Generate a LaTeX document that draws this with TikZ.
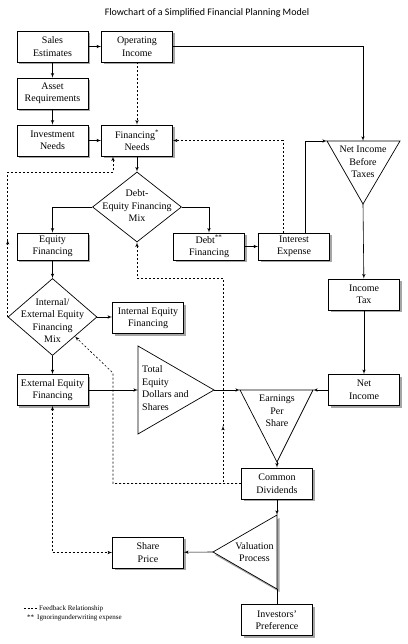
\documentclass[tikz,border=0pt]{standalone}
\usepackage{fontspec}
\setmainfont{Liberation Serif}
\newfontfamily\titlefont{Carlito}
\usepackage{tikz}
\usetikzlibrary{arrows,shapes.geometric,shadows,decorations.markings}

\begin{document}
\begin{tikzpicture}[x=1pt,y=-1pt]
\tikzset{box/.style = {shape=rectangle,draw,line width=0.7pt,fill=white,minimum width=71pt,minimum height=31pt,inner ysep=2pt,align=center,font=\fontsize{10}{12.5}\selectfont,drop shadow={shadow xshift=2pt,shadow yshift=-2pt,fill=black!35,opacity=1}}}
\tikzset{thin box/.style = {box,minimum height=27pt}}
\tikzset{decision/.style = {shape=diamond,draw,line width=0.7pt,inner sep=0pt}}
\tikzset{outline/.style = {draw,line width=0.7pt,line join=miter}}
\tikzset{txt/.style = {align=center,font=\fontsize{10}{12.5}\selectfont,inner sep=0pt}}
\tikzset{edge/.style = {->,> = latex',line width=0.6pt}}
\tikzset{feedback/.style = {edge,dash pattern=on 2pt off 2pt}}
\tikzset{midarrow/.style = {postaction={decorate},decoration={markings,mark=at position #1 with {\arrow{latex'}}}}}
\useasboundingbox (0,0) rectangle (407,644);
% title
\node[font=\titlefont\fontsize{10}{12}\selectfont] (title) at (207,13) {Flowchart of a Simplified Financial Planning Model};
% boxes
\node[box] (sales) at (52.5,46.5) {Sales\\Estimates};
\node[box] (opinc) at (137,46.5) {Operating\\Income};
\node[box] (asset) at (52.5,93.5) {Asset\\Requirements};
\node[box] (invest) at (52.5,140.5) {Investment\\Needs};
\node[box] (finneed) at (137,140.5) {Financing\textsuperscript{*}\\Needs};
\node[thin box] (eqfin) at (52.5,246.5) {Equity\\Financing};
\node[thin box] (debtfin) at (209,246.5) {Debt\textsuperscript{**}\\Financing};
\node[thin box] (intexp) at (294,246.5) {Interest\\Expense};
\node[box] (inctax) at (364,294.5) {Income\\Tax};
\node[box] (intfin) at (148,318) {Internal Equity\\Financing};
\node[box] (extfin) at (52.5,390) {External Equity\\Financing};
\node[box] (netinc) at (364,390) {Net\\Income};
\node[box] (comdiv) at (277,483.5) {Common\\Dividends};
\node[box] (price) at (148,552.5) {Share\\Price};
\node[box] (pref) at (277,620) {Investors'\\Preference};
% decisions
\node[decision,minimum width=89pt,minimum height=70pt] (dem) at (137,207) {};
\node[txt] (demtext) at (137,206) {Debt-\\Equity Financing\\Mix};
\node[decision,minimum width=89pt,minimum height=77pt] (iemix) at (52.5,317) {};
\node[txt] (iemixtext) at (52.5,320.5) {Internal/\\External Equity\\Financing\\Mix};
% triangles
\coordinate (nibt-l) at (327,141);
\coordinate (nibt-r) at (400,141);
\coordinate (nibt-b) at (363,204);
\coordinate (nibt-t) at (363,141);
\draw[outline] (nibt-l) -- (nibt-r) -- (nibt-b) -- cycle;
\node[txt] (nibt) at (363,162) {Net Income\\Before\\Taxes};
\coordinate (teds-t) at (138,346);
\coordinate (teds-b) at (138,434);
\coordinate (teds-r) at (214,390);
\coordinate (teds-l) at (138,390);
\draw[outline] (teds-t) -- (teds-r) -- (teds-b) -- cycle;
\node[txt,align=left,anchor=west] (teds) at (142,388) {Total\\Equity\\Dollars and\\Shares};
\coordinate (eps-l) at (240,390);
\coordinate (eps-r) at (313,390);
\coordinate (eps-b) at (277,462);
\draw[outline] (eps-l) -- (eps-r) -- (eps-b) -- cycle;
\node[txt] (eps) at (277,411) {Earnings\\Per\\Share};
\coordinate (val-t) at (277,515);
\coordinate (val-b) at (277,589);
\coordinate (val-l) at (213,552);
\fill[black!35] (279.5,518) -- (279.5,592) -- (215,555) -- cycle;
\draw[outline,fill=white] (val-t) -- (val-b) -- (val-l) -- cycle;
\node[txt] (val) at (254.5,552) {Valuation\\Process};
% edges
\draw[edge] (sales) -- (opinc);
\draw[edge] (sales) -- (asset);
\draw[edge] (asset) -- (invest);
\draw[edge] (invest) -- (finneed);
\draw[feedback] (opinc) -- (finneed);
\draw[edge] (opinc) -| (nibt-t);
\draw[edge] (finneed.south) -- (dem.north);
\draw[edge] (dem.west) -| (eqfin);
\draw[edge] (dem.east) -| (debtfin);
\draw[edge] (debtfin) -- (intexp);
\draw[edge] ([xshift=11pt]intexp.north) |- (nibt-l);
\draw[feedback] ([xshift=-11pt]intexp.north) |- (finneed.east);
\draw[edge] (nibt-b) -- (inctax);
\draw[edge] (inctax) -- (netinc);
\draw[edge] (netinc) -- (eps-r);
\draw[edge] (eqfin.south) -- (iemix.north);
\draw[edge] (iemix.east) -- (iemix.east -| intfin.west);
\draw[edge] (iemix.south) -- (extfin.north);
\draw[edge] (extfin) -- (teds-l);
\draw[edge] (teds-r) -- (eps-l);
\draw[edge] (eps-b) -- (comdiv);
\draw[edge] (comdiv) -- (val-t);
\draw[line width=0.6pt] (pref) -- (val-b);
\draw[edge] (val-l) -- (price);
\draw[feedback,<->] (extfin) |- (price);
\draw[feedback,midarrow=0.29] (iemix.west) |- (113,172) -- ([xshift=-24pt]finneed.south);
\draw[feedback] (comdiv.west) -| (113,373) -- (iemix.south east);
\draw[feedback,midarrow=0.22] (comdiv.west) -| (223,278) -| (dem.south);
% legend
\draw[line width=0.4pt,dash pattern=on 2pt off 1.5pt] (24,608.5) coordinate (leg-a) -- (37,608.5) coordinate (leg-b);
\node[anchor=west,font=\fontsize{7}{8}\selectfont,inner sep=0pt] (legfb) at (39,608.5) {Feedback Relationship};
\node[anchor=west,font=\fontsize{7}{8}\selectfont,inner sep=0pt] (legnote) at (27,618) {**\hspace{3pt}Ignoringunderwriting expense};
\end{tikzpicture}
\end{document}
